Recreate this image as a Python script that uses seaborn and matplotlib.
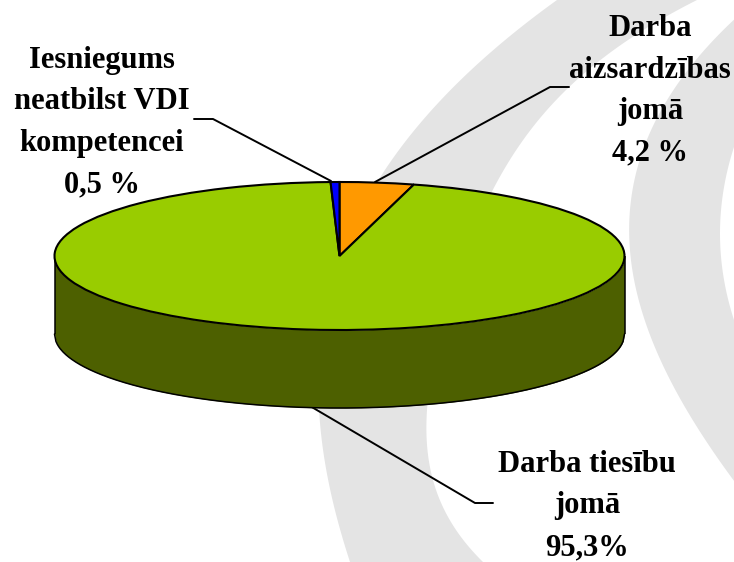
import numpy as np
import matplotlib
matplotlib.use("Agg")
import matplotlib.pyplot as plt
import seaborn as sns

# Chart data
categories = ["Darba\naizsardzības\njomā", "Darba tiesību\njomā", "Iesniegums\nneatbilst VDI\nkompetencei"]
shares = [4.2, 95.3, 0.5]
share_labels = ["4,2 %", "95,3%", "0,5 %"]
slice_colors = ["#ff9900", "#99cc00", "#0000ff"]
side_color = "#4d6000"
band_color = "#e4e4e4"

W, H = 734, 562
cx, cy, rx, ry, depth = 339.5, 256, 285, 74, 78

sns.set_theme(style="white")
plt.rcParams["font.family"] = ["Liberation Serif", "DejaVu Serif"]

fig = plt.figure(figsize=(W / 100, H / 100), dpi=100, facecolor="white")

# Back axes work in image pixels
ax = fig.add_axes([0, 0, 1, 1])
ax.set_xlim(0, W)
ax.set_ylim(H, 0)
ax.axis("off")

# Watermark arcs behind the chart
ys = np.linspace(0, H, 200)
inner_edge = np.polyfit([0, 127, 423, 562], [557, 417, 320, 350], 3)
outer_edge = np.polyfit([0, 77, 182, 410, 562], [697, 580, 497, 427, 483], 4)
ax.fill_betweenx(ys, np.polyval(inner_edge, ys), np.polyval(outer_edge, ys), color=band_color, lw=0, zorder=0)
inner_edge2 = np.polyfit([23, 83, 213, 280, 357, 480], [733, 673, 635, 633, 657, 734], 3)
outer_edge2 = np.polyfit([147, 233, 320], [734, 720, 734], 2)
ax.fill_betweenx(ys, np.polyval(inner_edge2, ys), np.polyval(outer_edge2, ys), color=band_color, lw=0, zorder=0)

# Side wall of the disc
t = np.linspace(-1, 1, 400)
wall_x = cx + rx * t
wall_top = cy + ry * np.sqrt(1 - t ** 2)
ax.fill_between(wall_x, wall_top, wall_top + depth, color=side_color, lw=0, zorder=2)
ax.plot(wall_x, wall_top + depth, color="black", lw=1.1, zorder=3)
ax.plot([cx - rx, cx - rx], [cy, cy + depth], color="black", lw=1.1, zorder=3, solid_capstyle="butt")
ax.plot([cx + rx, cx + rx], [cy, cy + depth], color="black", lw=1.1, zorder=3, solid_capstyle="butt")

# Leader lines
ax.plot([569, 550, 375], [87, 87, 182], color="black", lw=1.4, zorder=1)
ax.plot([493, 475, 310], [503, 503, 406], color="black", lw=1.4, zorder=1)
ax.plot([194, 213, 331], [119, 119, 181], color="black", lw=1.4, zorder=1)

# Labels
label_style = dict(ha="center", va="center", fontsize=22, fontweight="bold", color="black", linespacing=1.57, zorder=5)
ax.text(650, 91, categories[0] + "\n" + share_labels[0], **label_style)
ax.text(587, 506, categories[1] + "\n" + share_labels[1], **label_style)
ax.text(102, 122.5, categories[2] + "\n" + share_labels[2], **label_style)

# Top of the disc: a pie squeezed into the ellipse box
pie_ax = fig.add_axes([(cx - rx) / W, 1 - (cy + ry) / H, 2 * rx / W, 2 * ry / H])
pie_ax.pie(shares, colors=slice_colors, startangle=90, counterclock=False, radius=1,
           wedgeprops={"edgecolor": "black", "linewidth": 1.5})
pie_ax.set_aspect("auto")
pie_ax.set_xlim(-1, 1)
pie_ax.set_ylim(-1, 1)

fig.savefig("out.png", dpi=100, facecolor="white")
